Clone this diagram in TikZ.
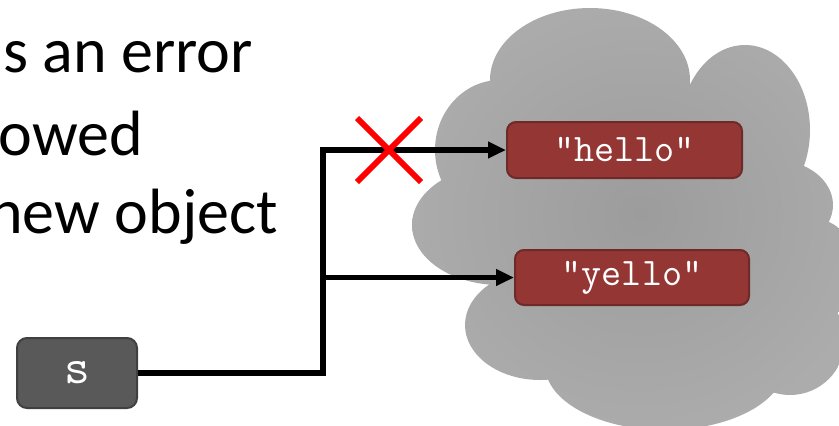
\documentclass[tikz,border=0pt]{standalone}
\usepackage{fontspec}
\setmainfont{Carlito}
\usetikzlibrary{arrows.meta}
\definecolor{strfill}{HTML}{943634}
\definecolor{strdraw}{HTML}{6E2A28}
\definecolor{varfill}{HTML}{595959}
\definecolor{vardraw}{HTML}{404040}
\definecolor{cloudin}{HTML}{9C9C9C}
\definecolor{cloudout}{HTML}{ACACAC}
\begin{document}
\begin{tikzpicture}[x=1pt,y=-1pt,
  slide/.style={anchor=base east,inner sep=0pt,font=\fontsize{64}{80}\selectfont},
  strbox/.style={draw=strdraw,fill=strfill,line width=2pt,rounded corners=9pt,
    text=white,font=\ttfamily\fontsize{39}{40}\selectfont,inner sep=0pt},
  varbox/.style={draw=vardraw,fill=varfill,line width=2pt,rounded corners=10pt,
    text=white,font=\ttfamily\fontsize{50}{50}\selectfont,inner sep=0pt,
    minimum width=120pt,minimum height=70pt},
  ref/.style={line width=5.5pt},
  refarrow/.style={ref,-{Triangle[length=18pt,width=16pt]}},
  cross/.style={red,line width=6pt}]
\useasboundingbox (0,0) rectangle (839,426);
\clip (0,0) rectangle (839,426);
% slide text (clipped on the left, as in the reference)
\node[slide] (t1) at (253,72) {s an error};
\node[slide] (t2) at (143,155) {owed};
\node[slide] (t3) at (278,233) {new object};
% cloud
\begin{scope}
  \clip (590,80) ellipse [x radius=100,y radius=72]
        (745,130) ellipse [x radius=65,y radius=85]
        (500,150) ellipse [x radius=65,y radius=70]
        (500,225) ellipse [x radius=88,y radius=60]
        (540,325) ellipse [x radius=75,y radius=55]
        (665,365) ellipse [x radius=120,y radius=65]
        (775,205) ellipse [x radius=58,y radius=45]
        (800,270) ellipse [x radius=60,y radius=55]
        (790,340) ellipse [x radius=55,y radius=55]
        (640,230) ellipse [x radius=160,y radius=140];
  \shade[inner color=cloudin,outer color=cloudout] (400,-10) rectangle (880,440);
\end{scope}
% objects
\node[strbox,minimum width=235pt,minimum height=56pt] (hello) at (624.5,150) {"hello"};
\node[strbox,minimum width=234pt,minimum height=55pt] (yello) at (632,277.5) {"yello"};
\node[varbox] (s) at (77,373) {s};
% references
\coordinate (j) at (323,373);
\draw[refarrow] (s.east) -- (j) |- (hello.west);
\coordinate (jy) at (j |- yello.west);
\draw[refarrow] (jy) -- (yello.west);
% red cross
\coordinate (xc) at (389,150);
\draw[cross] ([shift={(-32,-32)}]xc) -- ([shift={(32,32)}]xc);
\draw[cross] ([shift={(-32,32)}]xc) -- ([shift={(32,-32)}]xc);
\end{tikzpicture}
\end{document}
